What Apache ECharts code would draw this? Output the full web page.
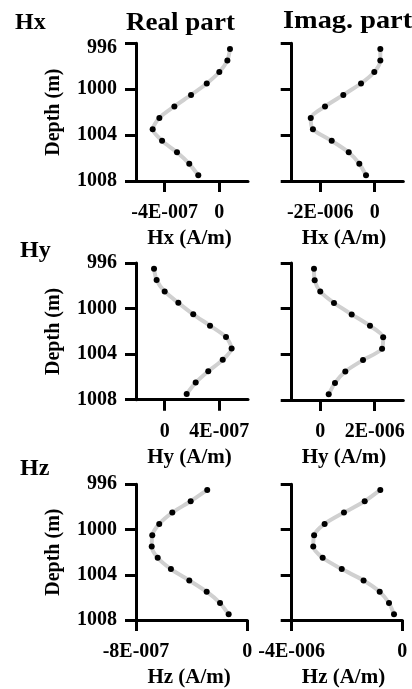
<!DOCTYPE html>
<html><head><meta charset="utf-8">
<script src="https://cdn.jsdelivr.net/npm/echarts@6/dist/echarts.min.js"></script>
<style>html,body{margin:0;padding:0;background:#fff}#c{width:412px;height:689px}</style>
</head><body><div id="c"></div>
<script>
const depths = [996.5, 997.5, 998.5, 999.5, 1000.5, 1001.5, 1002.5, 1003.5, 1004.5, 1005.5, 1006.5, 1007.5];
const hxReal = [7.8e-8, 5.9e-8, 0, -9.2e-8, -2.07e-7, -3.29e-7, -4.39e-7, -4.88e-7, -4.19e-7, -3.10e-7, -2.20e-7, -1.54e-7];
const hxImag = [2.06e-7, 2.06e-7, -1.5e-8, -5.03e-7, -1.154e-6, -1.826e-6, -2.35e-6, -2.27e-6, -1.58e-6, -9.55e-7, -5.66e-7, -3.2e-7];
const hyReal = [-7.8e-8, -5.9e-8, 0, 1.0e-7, 2.09e-7, 3.32e-7, 4.49e-7, 4.9e-7, 4.25e-7, 3.19e-7, 2.27e-7, 1.61e-7];
const hyImag = [-2.31e-7, -2.06e-7, 0, 5.03e-7, 1.154e-6, 1.826e-6, 2.31e-6, 2.27e-6, 1.57e-6, 9.2e-7, 5.4e-7, 3.1e-7];
const hzReal = [-2.88e-7, -4.07e-7, -5.39e-7, -6.33e-7, -6.83e-7, -6.87e-7, -6.44e-7, -5.49e-7, -4.17e-7, -2.92e-7, -1.96e-7, -1.34e-7];
const hzImag = [-7.96e-7, -1.36e-6, -2.11e-6, -2.81e-6, -3.19e-6, -3.22e-6, -2.88e-6, -2.19e-6, -1.40e-6, -8.17e-7, -4.81e-7, -3.0e-7];

const depthTicks = [996, 1000, 1004, 1008];
const xTickValues = [[-4e-7, 0], [-2e-6, 0], [0, 4e-7], [0, 2e-6], [-8e-7, 0], [-4e-6, 0]];
const xTickLabels = [['-4E-007', '0'], ['-2E-006', '0'], ['0', '4E-007'], ['0', '2E-006'], ['-8E-007', '0'], ['-4E-006', '0']];
const xRanges = [[-6.1e-7, 2.1e-7], [-3.05e-6, 1.05e-6], [-2.1e-7, 6.1e-7], [-1.05e-6, 3.05e-6], [-8e-7, 0], [-4e-6, 0]];
const xNames = ['Hx (A/m)', 'Hx (A/m)', 'Hy (A/m)', 'Hy (A/m)', 'Hz (A/m)', 'Hz (A/m)'];
const yName = 'Depth (m)';
const panelLabels = ['Hx', 'Hy', 'Hz'];
const colTitles = ['Real part', 'Imag. part'];
const seriesList = [hxReal, hxImag, hyReal, hyImag, hzReal, hzImag];

const FONT = 'Liberation Serif';
const grids = [
  {left: 136, top: 43.3, width: 112, height: 137.7},
  {left: 291.7, top: 43.3, width: 111.6, height: 137.7},
  {left: 136, top: 263, width: 112, height: 136.7},
  {left: 291.7, top: 263, width: 111.6, height: 137},
  {left: 136, top: 484.3, width: 111.3, height: 135.7},
  {left: 291.7, top: 484.3, width: 110.6, height: 135.7}
];
const axisLineStyle = {color: '#000', width: 3};
const xAxes = [], yAxes = [], series = [];
for (let i = 0; i < 6; i++) {
  const isLeft = i % 2 === 0;
  xAxes.push({
    gridIndex: i, type: 'value', min: xRanges[i][0], max: xRanges[i][1],
    axisLine: {show: true, onZero: false, lineStyle: axisLineStyle},
    axisTick: {show: true, length: 11, lineStyle: {color: '#000', width: 3}, customValues: xTickValues[i]},
    axisLabel: {
      show: true, customValues: xTickValues[i], margin: 22,
      fontFamily: FONT, fontWeight: 'bold', fontSize: 20, color: '#000',
      formatter: (v) => { const k = xTickValues[i].findIndex(t => Math.abs(t - v) < 1e-12); return k >= 0 ? xTickLabels[i][k] : ''; }
    },
    splitLine: {show: false},
    name: xNames[i], nameLocation: 'middle', nameGap: 47,
    nameTextStyle: {fontFamily: FONT, fontWeight: 'bold', fontSize: 21, color: '#000', padding: isLeft ? [0, 5, 0, 0] : [0, 7, 0, 0]}
  });
  yAxes.push({
    gridIndex: i, type: 'value', inverse: true, min: 996, max: 1008, interval: 4,
    axisLine: {show: true, onZero: false, lineStyle: axisLineStyle},
    axisTick: {show: true, length: 11, lineStyle: {color: '#000', width: 3}},
    axisLabel: {
      show: isLeft, margin: 19, fontFamily: FONT, fontWeight: 'bold', fontSize: 20, color: '#000',
      formatter: (v) => (i === 0 && v === 996) ? '{d|' + v + '}' : String(v),
      rich: {d: {fontFamily: FONT, fontWeight: 'bold', fontSize: 20, color: '#000', padding: [10, 0, 0, 0]}}
    },
    splitLine: {show: false},
    name: isLeft ? yName : '', nameLocation: 'middle', nameGap: 72,
    nameTextStyle: {fontFamily: FONT, fontWeight: 'bold', fontSize: 20, color: '#000'}
  });
  series.push({
    type: 'line', xAxisIndex: i, yAxisIndex: i,
    data: seriesList[i].map((v, k) => [v, depths[k]]),
    smooth: 0.25, symbol: 'circle', symbolSize: 6, showSymbol: true,
    lineStyle: {color: '#d0d0d0', width: 4},
    itemStyle: {color: '#000', borderWidth: 0},
    z: 3, animation: false
  });
}
const graphics = [
  {type: 'text', x: 15, y: 11, style: {text: panelLabels[0], font: 'bold 24px "' + FONT + '"', fill: '#000'}},
  {type: 'text', x: 20, y: 239, style: {text: panelLabels[1], font: 'bold 24px "' + FONT + '"', fill: '#000'}},
  {type: 'text', x: 20, y: 457, style: {text: panelLabels[2], font: 'bold 24px "' + FONT + '"', fill: '#000'}},
  {type: 'text', x: 126, y: 10, scaleX: 1.04, style: {text: colTitles[0], font: 'bold 26px "' + FONT + '"', fill: '#000'}},
  {type: 'text', x: 283, y: 8, scaleX: 1.09, style: {text: colTitles[1], font: 'bold 26px "' + FONT + '"', fill: '#000'}}
];
const chart = echarts.init(document.getElementById('c'), null, {renderer: 'canvas'});
chart.setOption({
  animation: false,
  grid: grids.map(g => Object.assign({containLabel: false}, g)),
  xAxis: xAxes, yAxis: yAxes, series: series, graphic: graphics
});
</script></body></html>
